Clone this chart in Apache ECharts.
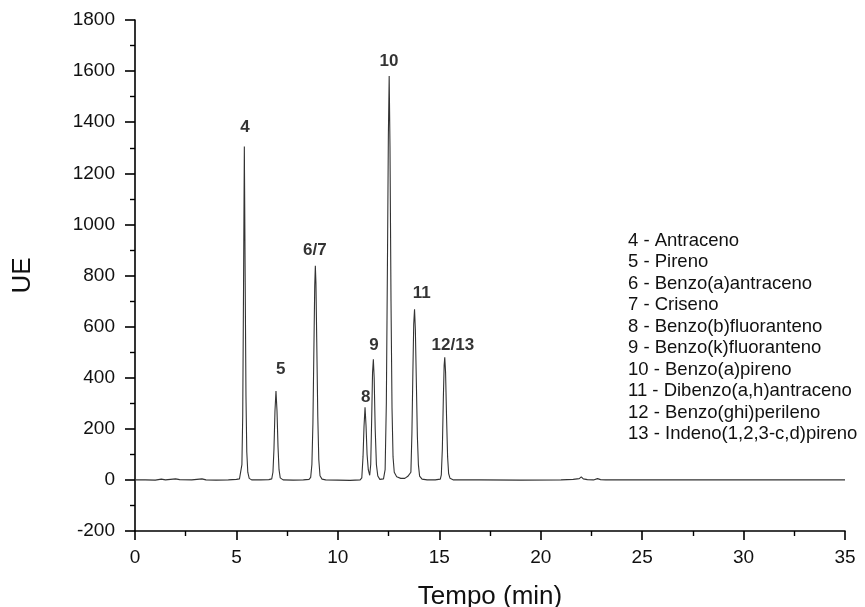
<!DOCTYPE html>
<html>
<head>
<meta charset="utf-8">
<script src="https://cdn.jsdelivr.net/npm/echarts@6/dist/echarts.min.js"></script>
<style>html,body{margin:0;padding:0;background:#fff}#c{width:865px;height:607px}</style>
</head>
<body>
<div id="c"></div>
<script>
// Retention time (min)
var tempo = [0,0.5,1.0,1.3,1.5,2.0,2.2,2.8,3.3,3.5,4.0,4.6,5.0,5.15,
  5.22,5.27,5.31,5.35,5.39,5.43,5.47,5.51,5.56,5.63,5.75,6.2,6.6,
  6.74,6.80,6.85,6.90,6.95,7.00,7.05,7.10,7.16,7.3,7.8,8.3,8.58,
  8.66,8.72,8.77,8.82,8.86,8.89,8.92,8.96,9.01,9.06,9.12,9.22,9.4,10.0,10.6,11.1,
  11.18,11.24,11.29,11.34,11.39,11.44,11.50,11.57,
  11.62,11.67,11.71,11.75,11.79,11.84,11.90,11.97,12.07,
  12.25,12.33,12.39,12.44,12.49,12.53,12.57,12.62,12.67,12.72,12.78,12.9,13.1,13.3,13.45,13.52,
  13.6,13.65,13.70,13.74,13.78,13.82,13.87,13.92,13.97,14.03,14.15,14.4,14.8,15.05,
  15.1,15.15,15.20,15.24,15.27,15.31,15.36,15.41,15.46,15.53,15.7,
  17,19,21,21.6,21.9,22.0,22.1,22.3,22.6,22.8,22.95,23.2,26,30,32,35];
// Detector signal (UE)
var sinal = [0,0,-1,3,0,4,1,0,4,0,-1,0,2,4,
  10,60,250,750,1305,800,330,110,30,6,0,0,1,
  4,30,120,270,348,270,130,40,8,0,-1,0,2,
  10,60,220,520,760,838,770,540,250,80,16,3,0,-1,-2,0,
  8,90,210,284,210,100,40,18,
  60,250,420,472,400,200,60,15,2,
  4,40,300,800,1350,1581,1300,700,280,90,30,12,6,6,14,12,
  30,180,430,610,668,590,380,170,60,15,3,0,0,3,
  20,120,320,450,480,420,240,90,25,6,0,
  0,-1,0,2,5,12,4,1,0,5,1,0,0,0,0,0];
// Peak labels: text, time, signal position of label centre
var rotulos = ["4","5","6/7","8","9","10","11","12/13"];
var rotuloTempo = [5.42,7.18,8.87,11.38,11.78,12.52,14.13,15.67];
var rotuloSinal = [1381,434,900,322,525,1640,731,528];
// Legend text
var legenda = ["4 - Antraceno","5 - Pireno","6 - Benzo(a)antraceno","7 - Criseno",
  "8 - Benzo(b)fluoranteno","9 - Benzo(k)fluoranteno","10 - Benzo(a)pireno",
  "11 - Dibenzo(a,h)antraceno","12 - Benzo(ghi)perileno","13 - Indeno(1,2,3-c,d)pireno"];

var lineData = tempo.map(function(t,i){return [t, sinal[i]];});
var labelData = rotulos.map(function(s,i){return {value:[rotuloTempo[i], rotuloSinal[i]], name:s};});

var font = 'Arial, "Liberation Sans", Helvetica, sans-serif';
var chart = echarts.init(document.getElementById('c'));
chart.setOption({
  animation: false,
  backgroundColor: '#fff',
  grid: {left:135, right:20, top:20, bottom:76, containLabel:false, outerBoundsMode:'none'},
  xAxis: {
    type:'value', min:0, max:35, interval:5,
    name:'Tempo (min)', nameLocation:'middle', nameGap:53, nameMoveOverlap:false,
    nameTextStyle:{fontSize:26, color:'#111', fontFamily:font},
    axisLine:{onZero:false, lineStyle:{color:'#000', width:1.6}},
    axisTick:{inside:false, length:9, lineStyle:{color:'#000', width:1.6}},
    minorTick:{show:true, splitNumber:2, length:5, lineStyle:{color:'#000', width:1.4}},
    splitLine:{show:false},
    axisLabel:{fontSize:19, color:'#111', margin:17, fontFamily:font}
  },
  yAxis: {
    type:'value', min:-200, max:1800, interval:200,
    name:'UE', nameLocation:'middle', nameGap:99, nameRotate:90, nameMoveOverlap:false,
    nameTextStyle:{fontSize:26, color:'#111', fontFamily:font},
    axisLine:{show:true, onZero:false, lineStyle:{color:'#000', width:1.6}},
    axisTick:{show:true, inside:false, length:10, lineStyle:{color:'#000', width:1.6}},
    minorTick:{show:true, splitNumber:2, length:5, lineStyle:{color:'#000', width:1.4}},
    splitLine:{show:false},
    axisLabel:{fontSize:19, color:'#111', margin:20, fontFamily:font,
      formatter:function(v){return String(v);}}
  },
  series: [
    {type:'line', data:lineData, showSymbol:false, symbol:'none',
     lineStyle:{color:'#333', width:1.1}, silent:true},
    {type:'scatter', data:labelData, symbolSize:0, silent:true,
     label:{show:true, position:'inside', formatter:'{b}', fontSize:17, fontWeight:'bold', color:'#000', fontFamily:font}}
  ],
  graphic: [{
    type:'text', left:628, top:230,
    style:{text:legenda.join('\n'), fontSize:18.5, lineHeight:21.5, fill:'#111', font:'18.5px ' + font}
  }]
});
</script>
</body>
</html>
